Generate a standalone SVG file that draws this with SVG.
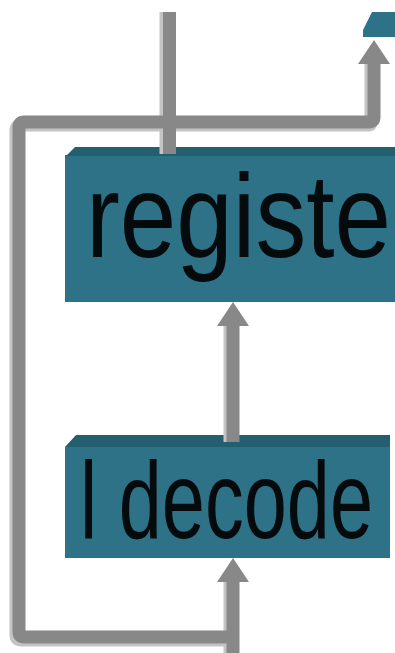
<svg xmlns="http://www.w3.org/2000/svg" width="395" height="653" viewBox="0 0 395 653">
<style>
.body{fill:#2e7287}
.band{fill:#245f70}
.lbl{font-family:"Liberation Sans",Arial,sans-serif;fill:#050a0c}
.conn{fill:none;stroke:#888888;stroke-width:13}
.shadow{fill:none;stroke:#c4c4c4;stroke-width:13}
</style>
<defs>
<marker id="arr" markerUnits="userSpaceOnUse" viewBox="0 -16 24 32" markerWidth="24" markerHeight="32" refX="0" refY="0" orient="auto">
<path d="M0,-16 L24,0 L0,16 Z" fill="#888888"/>
</marker>
</defs>
<g id="node-top">
<polygon class="body" points="372,12 395,12 395,37 363,37 363,30"/>
</g>
<g id="node-register">
<rect class="body" x="65" y="155" width="335" height="147"/>
<polygon class="band" points="65,157 75,147 400,147 400,156 65,156"/>
<text class="lbl" x="86" y="257" font-size="119" textLength="305" lengthAdjust="spacingAndGlyphs">registe</text>
</g>
<g id="node-decode">
<rect class="body" x="65" y="447" width="325" height="111"/>
<polygon class="band" points="65,447 76,435 390,435 390,447"/>
<text class="lbl" x="80" y="538" font-size="110" textLength="293" lengthAdjust="spacingAndGlyphs">l decode</text>
</g>
<g id="connectors">
<path class="shadow" d="M166,12 V154"/>
<path class="shadow" d="M230,442 V326"/>
<path class="shadow" d="M230,653 V582"/>
<path class="shadow" d="M230,640 H21 Q16,640 16,635 V130 Q16,125 21,125 H369 Q371,125 371,120 V64"/>
<path class="conn" d="M169.5,12 V154"/>
<path class="conn" d="M233,442 V326" marker-end="url(#arr)"/>
<path class="conn" d="M233,653 V582" marker-end="url(#arr)"/>
<path class="conn" d="M233,637 H24 Q19,637 19,632 V127 Q19,122 24,122 H369 Q374,122 374,117 V64" marker-end="url(#arr)"/>
</g>
</svg>
